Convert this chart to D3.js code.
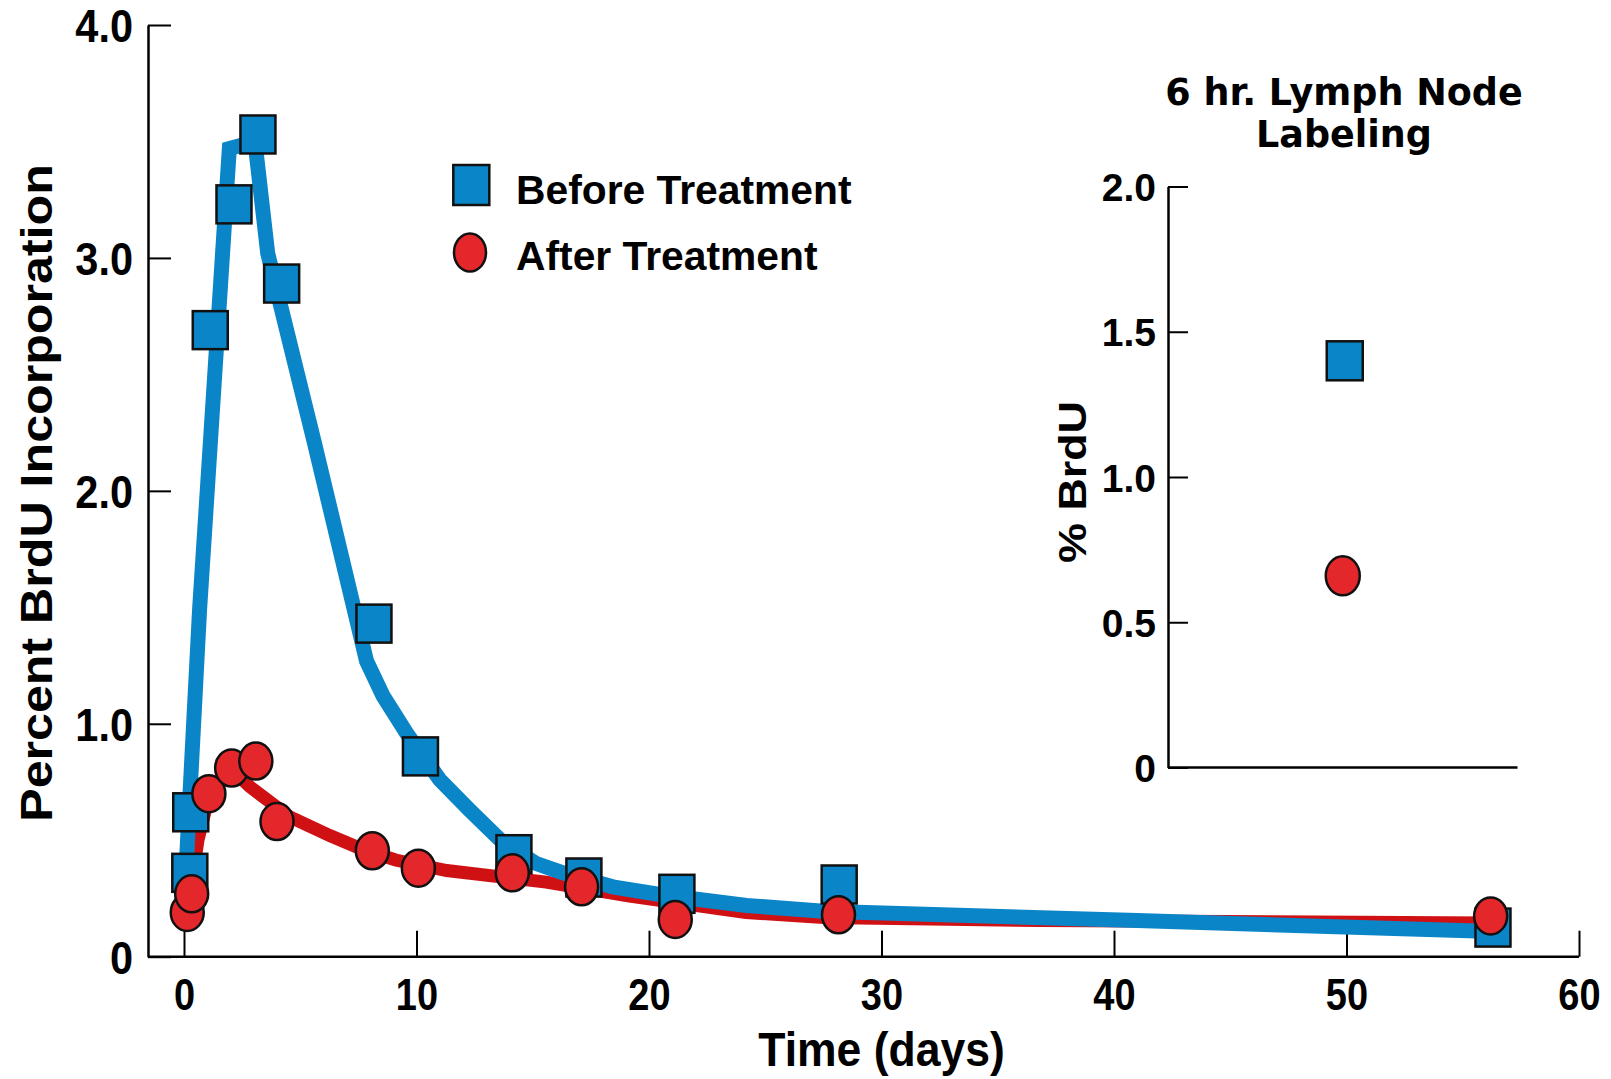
<!DOCTYPE html>
<html>
<head>
<meta charset="utf-8">
<script src="https://cdn.jsdelivr.net/npm/d3@7"></script>
<style>
  html, body { margin: 0; padding: 0; background: #fff; }
  svg { display: block; }
  text { font-family: "Liberation Sans", Arial, Helvetica, sans-serif; font-weight: bold; fill: #000; }
  .heavy { font-family: "DejaVu Sans", "Liberation Sans", sans-serif; }
</style>
</head>
<body>
<svg id="chart" width="1611" height="1079"></svg>
<script>
// ---- data ----
const seriesNames = ["Before Treatment", "After Treatment"];

// measured BrdU incorporation (percent) by day
const beforeDays = [0.25, 0.29, 1.13, 2.15, 3.18, 4.2, 8.17, 10.17, 14.19, 17.2, 21.2, 28.18, 56.3];
const beforePct  = [0.36, 0.62, 2.69, 3.23, 3.53, 2.89, 1.43, 0.86, 0.44, 0.34, 0.27, 0.31, 0.125];
const afterDays  = [0.14, 0.33, 1.07, 2.05, 3.09, 4.0, 8.1, 10.08, 14.12, 17.1, 21.13, 28.15, 56.2];
const afterPct   = [0.19, 0.27, 0.70, 0.81, 0.84, 0.58, 0.455, 0.38, 0.36, 0.30, 0.16, 0.18, 0.175];

// fitted curves
const beforeFitDays = [0.08, 0.67, 1.95, 3.05, 3.6, 5.6, 7.85, 8.56, 9.57, 11.0, 12.28, 13.72, 15.15, 16.3, 18.44, 20.6, 24.2, 27.5, 41, 56.3];
const beforeFitPct  = [0.36, 1.49, 3.47, 3.50, 3.02, 2.21, 1.27, 1.12, 0.96, 0.76, 0.63, 0.49, 0.40, 0.36, 0.30, 0.265, 0.22, 0.195, 0.155, 0.108];
const afterFitDays  = [0.14, 0.6, 1.07, 2.0, 2.83, 4.55, 6.27, 7.7, 9.1, 11.3, 15.58, 19.16, 24.17, 27.5, 36.8, 56.2];
const afterFitPct   = [0.19, 0.50, 0.69, 0.81, 0.73, 0.60, 0.52, 0.46, 0.415, 0.37, 0.32, 0.26, 0.19, 0.168, 0.155, 0.145];

const xTicks = [0, 10, 20, 30, 40, 50, 60];
const xTickLabels = ["0", "10", "20", "30", "40", "50", "60"];
const yTicks = [0, 1, 2, 3, 4];
const yTickLabels = ["0", "1.0", "2.0", "3.0", "4.0"];

// 6 hr lymph node labeling (% BrdU)
const insetGroups = ["Lymph Node"];
const insetBefore = [1.40];
const insetAfter  = [0.66];
const insetTicks = [0, 0.5, 1.0, 1.5, 2.0];
const insetTickLabels = ["0", "0.5", "1.0", "1.5", "2.0"];
const insetTitleLines = ["6 hr. Lymph Node", "Labeling"];

const xTitle = "Time (days)";
const yTitle = "Percent BrdU Incorporation";
const insetYTitle = "% BrdU";

// ---- styles ----
const BLUE = "#0a86c8";
const RED = "#e3272b";
const RED_LINE = "#cf1114";
const EDGE = "#111";

const svg = d3.select("#chart");

// ---- main panel scales ----
const x = d3.scaleLinear().domain([0, 60]).range([184, 1579]);
const y = d3.scaleLinear().domain([0, 4]).range([956.7, 25]);
const axisLeftX = 148;

// y axis (ticks point inward)
const gy = svg.append("g")
  .attr("transform", `translate(${axisLeftX},0)`)
  .call(d3.axisLeft(y).tickValues(yTicks).tickFormat((d, i) => yTickLabels[i])
    .tickSizeInner(-23).tickSizeOuter(0).tickPadding(15));
gy.attr("font-family", null).attr("font-size", null);
gy.select(".domain").attr("stroke", "#000").attr("stroke-width", 2.5);
gy.selectAll(".tick line").attr("stroke", "#000").attr("stroke-width", 2);
gy.selectAll(".tick text")
  .attr("font-size", 41.5).attr("dy", "0.36em")
  .attr("transform", "scale(1,1.1)");

// x axis (ticks point upward, baseline drawn from the y axis)
const gx = svg.append("g")
  .attr("transform", `translate(0,${y(0)})`)
  .call(d3.axisBottom(x).tickValues(xTicks).tickFormat((d, i) => xTickLabels[i])
    .tickSizeInner(-26).tickSizeOuter(0).tickPadding(0));
gx.attr("font-family", null).attr("font-size", null);
gx.select(".domain").remove();
gx.selectAll(".tick line").attr("stroke", "#000").attr("stroke-width", 2);
gx.selectAll(".tick text")
  .attr("font-size", 38).attr("dy", 0).attr("y", 53 / 1.15)
  .attr("transform", "scale(1,1.15)");
svg.append("line")
  .attr("x1", axisLeftX).attr("x2", x(60))
  .attr("y1", y(0)).attr("y2", y(0))
  .attr("stroke", "#000").attr("stroke-width", 2.5);

// axis titles
svg.append("text")
  .attr("transform", `translate(${x(30)},${1066}) scale(1,1.08)`)
  .attr("text-anchor", "middle").attr("font-size", 44.5)
  .text(xTitle);
svg.append("text")
  .attr("transform", "translate(51.5,493) rotate(-90) scale(1.14,1)")
  .attr("text-anchor", "middle").attr("font-size", 44)
  .text(yTitle);

// fitted curves
const line = d3.line().x(d => x(d[0])).y(d => y(d[1]));
svg.append("path")
  .attr("d", line(d3.zip(afterFitDays, afterFitPct)))
  .attr("fill", "none").attr("stroke", RED_LINE)
  .attr("stroke-width", 13).attr("stroke-linejoin", "miter");
svg.append("path")
  .attr("d", line(d3.zip(beforeFitDays, beforeFitPct)))
  .attr("fill", "none").attr("stroke", BLUE)
  .attr("stroke-width", 15).attr("stroke-linejoin", "miter")
  .attr("stroke-miterlimit", 2.2);

// measured points
const sqW = 35, sqH = 38;
svg.append("g").selectAll("rect")
  .data(d3.zip(beforeDays, beforePct))
  .join("rect")
  .attr("x", d => x(d[0]) - sqW / 2).attr("y", d => y(d[1]) - sqH / 2)
  .attr("width", sqW).attr("height", sqH)
  .attr("fill", BLUE).attr("stroke", EDGE).attr("stroke-width", 2.5);
svg.append("g").selectAll("ellipse")
  .data(d3.zip(afterDays, afterPct))
  .join("ellipse")
  .attr("cx", d => x(d[0])).attr("cy", d => y(d[1]))
  .attr("rx", 16.5).attr("ry", 18.5)
  .attr("fill", RED).attr("stroke", EDGE).attr("stroke-width", 2.5);

// legend
const legend = svg.append("g");
legend.append("rect")
  .attr("x", 471.3 - 18).attr("y", 185 - 20).attr("width", 36).attr("height", 40)
  .attr("fill", BLUE).attr("stroke", EDGE).attr("stroke-width", 2.5);
legend.append("ellipse")
  .attr("cx", 470).attr("cy", 252.5).attr("rx", 16).attr("ry", 19)
  .attr("fill", RED).attr("stroke", EDGE).attr("stroke-width", 2.5);
legend.selectAll("text.lab").data(seriesNames).join("text")
  .attr("class", "lab")
  .attr("x", 516).attr("y", (d, i) => i === 0 ? 203.5 : 270)
  .attr("font-size", 40.8)
  .text(d => d);

// ---- inset: 6 hr lymph node labeling ----
const xi = d3.scalePoint().domain(insetGroups).range([1168, 1517.5]).padding(0.5);
const yi = d3.scaleLinear().domain([0, 2]).range([767.5, 186.5]);

const giy = svg.append("g")
  .attr("transform", "translate(1168,0)")
  .call(d3.axisLeft(yi).tickValues(insetTicks).tickFormat((d, i) => insetTickLabels[i])
    .tickSizeInner(-20).tickSizeOuter(0).tickPadding(12));
giy.attr("font-family", null).attr("font-size", null);
giy.select(".domain").attr("stroke", "#000").attr("stroke-width", 2.5);
giy.selectAll(".tick line").attr("stroke", "#000").attr("stroke-width", 2);
giy.selectAll(".tick text").attr("font-size", 39).attr("dy", "0.36em");
svg.append("line")
  .attr("x1", 1168).attr("x2", 1517.5)
  .attr("y1", yi(0)).attr("y2", yi(0))
  .attr("stroke", "#000").attr("stroke-width", 2.5);

svg.append("g").selectAll("text")
  .data(insetTitleLines).join("text")
  .attr("class", "heavy")
  .attr("x", 1344).attr("y", (d, i) => i === 0 ? 105 : 147)
  .attr("text-anchor", "middle").attr("font-size", 36.5)
  .text(d => d);

svg.append("text")
  .attr("transform", "translate(1086,482) rotate(-90) scale(1.18,1)")
  .attr("text-anchor", "middle").attr("font-size", 38)
  .text(insetYTitle);

svg.append("g").selectAll("rect")
  .data(insetGroups.map((g, i) => [g, insetBefore[i]]))
  .join("rect")
  .attr("x", d => xi(d[0]) + 2 - 18).attr("y", d => yi(d[1]) - 19.5)
  .attr("width", 36).attr("height", 39)
  .attr("fill", BLUE).attr("stroke", EDGE).attr("stroke-width", 2.5);
svg.append("g").selectAll("ellipse")
  .data(insetGroups.map((g, i) => [g, insetAfter[i]]))
  .join("ellipse")
  .attr("cx", d => xi(d[0])).attr("cy", d => yi(d[1]))
  .attr("rx", 17).attr("ry", 19.5)
  .attr("fill", RED).attr("stroke", EDGE).attr("stroke-width", 2.5);
</script>
</body>
</html>
